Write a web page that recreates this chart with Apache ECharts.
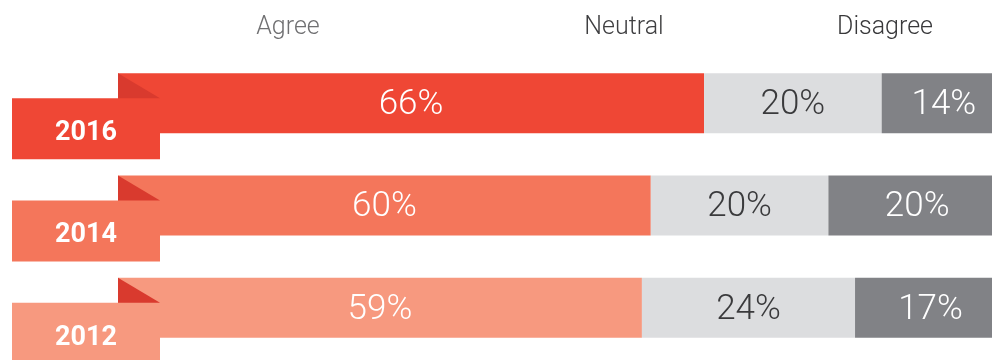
<!DOCTYPE html>
<html>
<head>
<meta charset="utf-8">
<script src="https://cdn.jsdelivr.net/npm/echarts@6/dist/echarts.min.js"></script>
<style>
html,body{margin:0;padding:0;background:#fff;}
#c{width:992px;height:360px;}
</style>
</head>
<body>
<div id="c"></div>
<script>
const years = ['2016', '2014', '2012'];
const agree = [66, 60, 59];
const neutral = [20, 20, 24];
const disagree = [14, 20, 17];
const headers = ['Agree', 'Neutral', 'Disagree'];
const yearColors = ['#EF4735', '#F4765B', '#F7997F'];

const chart = echarts.init(document.getElementById('c'));
const font = 'Roboto, "Noto Sans", sans-serif';

chart.setOption({
  animation: false,
  grid: { left: 118, width: 888, top: 52, height: 307, containLabel: false, outerBoundsMode: 'none' },
  xAxis: { type: 'value', min: 0, max: 100, show: false },
  yAxis: { type: 'category', data: years, inverse: true, show: false },
  graphic: [
    { type: 'text', x: 288, y: 28, style: { text: headers[0], font: '300 25px ' + font, fill: '#707072', align: 'center', verticalAlign: 'middle' } },
    { type: 'text', x: 624, y: 28, style: { text: headers[1], font: '300 25px ' + font, fill: '#3f3f41', align: 'center', verticalAlign: 'middle' } },
    { type: 'text', x: 885, y: 28, style: { text: headers[2], font: '300 25px ' + font, fill: '#38383a', align: 'center', verticalAlign: 'middle' } }
  ],
  series: [
    {
      name: headers[0], type: 'bar', stack: 's', barWidth: 60,
      data: agree.map((v, i) => ({ value: v, itemStyle: { color: yearColors[i] } })),
      label: { show: true, position: 'inside', offset: [0, 2], formatter: '{c}%', color: '#fff', fontFamily: font, fontWeight: 300, fontSize: 35 }
    },
    {
      name: headers[1], type: 'bar', stack: 's', barWidth: 60,
      itemStyle: { color: '#DCDDDF' },
      data: neutral,
      label: { show: true, position: 'inside', offset: [0, 2], formatter: '{c}%', color: '#3a3a3c', fontFamily: font, fontWeight: 300, fontSize: 35 }
    },
    {
      name: headers[2], type: 'bar', stack: 's', barWidth: 60,
      itemStyle: { color: '#818286' },
      data: disagree,
      label: { show: true, position: 'inside', offset: [0, 2], formatter: '{c}%', color: '#fff', fontFamily: font, fontWeight: 300, fontSize: 35 }
    },
    {
      type: 'custom', clip: false, z: 10,
      data: years.map((y, i) => [0, i]),
      renderItem: function (params, api) {
        const i = api.value(1);
        const p = api.coord([0, i]);
        const x0 = p[0], cy = p[1];
        return {
          type: 'group',
          children: [
            { type: 'rect', shape: { x: x0 - 106, y: cy - 5, width: 148, height: 61 }, style: { fill: yearColors[i] } },
            { type: 'polygon', shape: { points: [[x0, cy - 30], [x0 + 42, cy - 5], [x0, cy - 5]] }, style: { fill: '#D93A2E' } },
            { type: 'text', style: { text: years[i], x: x0 - 32, y: cy + 30, font: 'bold 27px ' + font, fill: '#fff', align: 'center', verticalAlign: 'middle' } }
          ]
        };
      }
    }
  ]
});
</script>
</body>
</html>
